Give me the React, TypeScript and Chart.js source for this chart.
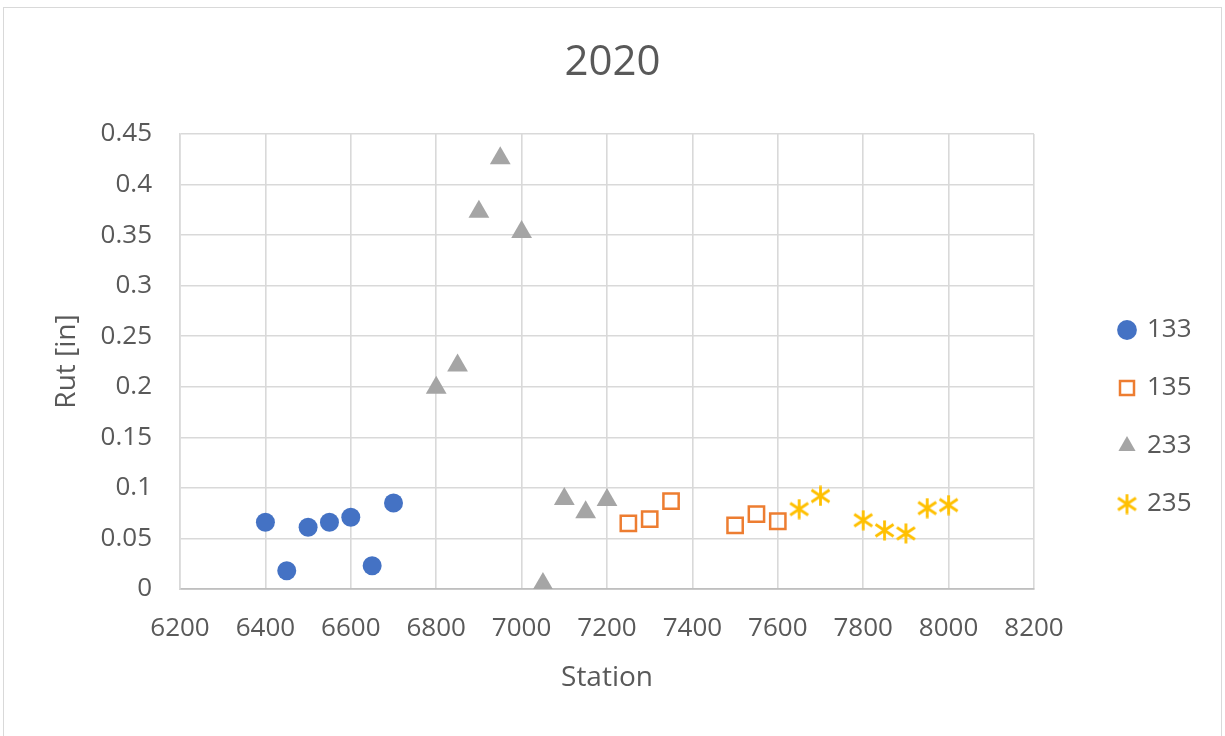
import React, { useEffect, useRef } from "react";
import { Chart, registerables } from "chart.js";

Chart.register(...registerables);

const stations133 = [6400, 6450, 6500, 6550, 6600, 6650, 6700];
const rut133 = [0.066, 0.018, 0.061, 0.066, 0.071, 0.023, 0.085];

const stations135 = [7250, 7300, 7350, 7500, 7550, 7600];
const rut135 = [0.065, 0.069, 0.087, 0.063, 0.074, 0.067];

const stations233 = [6800, 6850, 6900, 6950, 7000, 7050, 7100, 7150, 7200];
const rut233 = [0.199, 0.221, 0.373, 0.426, 0.353, 0.005, 0.089, 0.076, 0.088];

const stations235 = [7650, 7700, 7800, 7850, 7900, 7950, 8000];
const rut235 = [0.079, 0.092, 0.068, 0.058, 0.055, 0.08, 0.083];

const seriesNames = ["133", "135", "233", "235"];
const chartTitle = "2020";
const xTitle = "Station";
const yTitle = "Rut [in]";

const FONT = "'Open Sans', 'Noto Sans', sans-serif";
const TEXT = "#595959";
const GRID = "#D9D9D9";

function makeStar(): HTMLCanvasElement {
  const c = document.createElement("canvas");
  c.width = 21;
  c.height = 21;
  const ctx = c.getContext("2d")!;
  ctx.strokeStyle = "#FFC000";
  ctx.lineWidth = 2.8;
  ctx.lineCap = "butt";
  ctx.beginPath();
  ctx.moveTo(10.5, 0.5);
  ctx.lineTo(10.5, 20.5);
  ctx.moveTo(1.5, 4.5);
  ctx.lineTo(19.5, 16.5);
  ctx.moveTo(1.5, 16.5);
  ctx.lineTo(19.5, 4.5);
  ctx.stroke();
  return c;
}

const toPts = (xs: number[], ys: number[]) => xs.map((x, i) => ({ x, y: ys[i] }));

const legendWidthPlugin = {
  id: "legendWidth",
  beforeUpdate(chart: any) {
    const lg = chart.legend;
    if (lg && !lg._fixedWidth) {
      const f = lg.fit;
      lg.fit = function () {
        f.call(this);
        this.width = 137;
      };
      lg._fixedWidth = true;
    }
  },
};

export default function App() {
  const ref = useRef<HTMLCanvasElement>(null);

  useEffect(() => {
    if (!ref.current) return;
    const star = makeStar();
    const chart = new Chart(ref.current, {
      type: "scatter",
      plugins: [legendWidthPlugin],
      data: {
        datasets: [
          {
            label: seriesNames[0],
            data: toPts(stations133, rut133),
            pointStyle: "circle",
            pointRadius: 9.5,
            backgroundColor: "#4472C4",
            borderColor: "#4472C4",
            borderWidth: 0,
          },
          {
            label: seriesNames[1],
            data: toPts(stations135, rut135),
            pointStyle: "rect",
            pointRadius: 10.8,
            backgroundColor: "rgba(255,255,255,0)",
            borderColor: "#ED7D31",
            borderWidth: 2.5,
          },
          {
            label: seriesNames[2],
            data: toPts(stations233, rut233),
            pointStyle: "triangle",
            pointRadius: 12,
            backgroundColor: "#A5A5A5",
            borderColor: "#A5A5A5",
            borderWidth: 0,
          },
          {
            label: seriesNames[3],
            data: toPts(stations235, rut235),
            pointStyle: star as any,
            pointRadius: 10,
            backgroundColor: "#FFC000",
            borderColor: "#FFC000",
            borderWidth: 0,
          },
        ],
      },
      options: {
        responsive: false,
        animation: false,
        devicePixelRatio: 1,
        events: [],
        layout: { padding: 0 },
        plugins: {
          tooltip: { enabled: false },
          title: {
            display: true,
            text: chartTitle,
            color: TEXT,
            font: { family: FONT, size: 42, weight: "normal" },
            padding: { top: 37.8, bottom: 45.8 },
          },
          legend: {
            display: true,
            position: "right",
            align: "center",
            labels: {
              usePointStyle: true,
              boxWidth: 14,
              boxHeight: 14,
              padding: 32,
              color: TEXT,
              font: { family: FONT, size: 26 },
            },
          },
        },
        scales: {
          x: {
            type: "linear",
            position: "bottom",
            min: 6200,
            max: 8200,
            afterFit: (s: any) => {
              s.height = 245;
            },
            ticks: {
              stepSize: 200,
              padding: 24,
              color: TEXT,
              font: { family: FONT, size: 26 },
              callback: (v: any) => String(v),
              maxRotation: 0,
            },
            grid: { color: GRID, lineWidth: 1.6, drawTicks: false },
            border: { color: "#BFBFBF", width: 1.8 },
            title: {
              display: true,
              text: xTitle,
              color: TEXT,
              font: { family: FONT, size: 28 },
              padding: { top: 0, bottom: 139.2 },
            },
          },
          y: {
            type: "linear",
            position: "left",
            min: 0,
            max: 0.45,
            afterFit: (s: any) => {
              s.width = 180;
            },
            ticks: {
              stepSize: 0.05,
              padding: 28,
              color: TEXT,
              font: { family: FONT, size: 26 },
              callback: (v: any) => String(Math.round(Number(v) * 100) / 100),
            },
            grid: { color: GRID, lineWidth: 1.6, drawTicks: false },
            border: { color: GRID, width: 1.6 },
            title: {
              display: true,
              text: yTitle,
              color: TEXT,
              font: { family: FONT, size: 28 },
              padding: { top: 50.2, bottom: 0 },
            },
          },
          gap: {
            type: "linear",
            position: "right",
            display: true,
            afterFit: (s: any) => {
              s.width = 54;
            },
            ticks: { display: false },
            grid: { display: false },
            border: { display: false },
          },
        },
      } as any,
    });
    return () => chart.destroy();
  }, []);

  return (
    <div
      style={{
        position: "fixed",
        left: 0,
        top: 0,
        width: 1225,
        height: 736,
        overflow: "hidden",
        background: "#ffffff",
      }}
    >
      <canvas
        ref={ref}
        width={1225}
        height={834}
        style={{ position: "absolute", left: 0, top: 0, width: 1225, height: 834 }}
      />
      <div
        style={{
          position: "absolute",
          left: 3,
          top: 7,
          width: 1217,
          height: 800,
          border: "1.5px solid #D9D9D9",
          pointerEvents: "none",
        }}
      />
    </div>
  );
}
